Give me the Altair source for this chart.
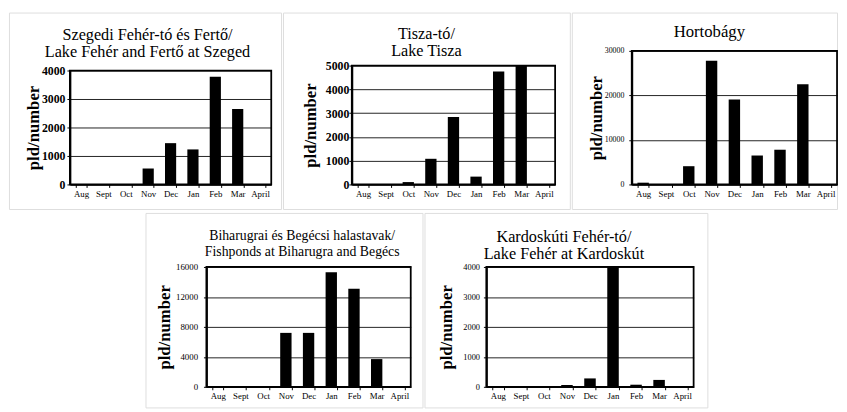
import altair as alt
import pandas as pd

months = ["Aug", "Sept", "Oct", "Nov", "Dec", "Jan", "Feb", "Mar", "April"]
szeged = [0, 0, 0, 560, 1450, 1230, 3780, 2650, 0]
tisza = [0, 0, 100, 1080, 2840, 330, 4750, 5000, 0]
hortobagy = [400, 0, 4100, 27800, 19100, 6500, 7800, 22500, 0]
biharugra = [0, 0, 0, 7200, 7200, 15300, 13100, 3700, 0]
kardoskut = [0, 0, 0, 60, 280, 4000, 70, 230, 0]

title_szeged = ["Szegedi Fehér-tó és Fertő/", "Lake Fehér and Fertő at Szeged"]
title_tisza = ["Tisza-tó/", "Lake Tisza"]
title_hortobagy = ["Hortobágy"]
title_biharugra = ["Biharugrai és Begécsi halastavak/", "Fishponds at Biharugra and Begécs"]
title_kardoskut = ["Kardoskúti Fehér-tó/", "Lake Fehér at Kardoskút"]

ticks_szeged = [0, 1000, 2000, 3000, 4000]
ticks_tisza = [0, 1000, 2000, 3000, 4000, 5000]
ticks_hortobagy = [0, 10000, 20000, 30000]
ticks_biharugra = [0, 4000, 8000, 12000, 16000]
ticks_kardoskut = [0, 1000, 2000, 3000, 4000]

y_title = "pld/number"
FONT = "Liberation Serif"


def panel(values, title, ticks, W, H, l, r, t, b, tfs, tx, ty, tlh,
          lfs, lbold, lpad, tpad):
    df = pd.DataFrame({"month": months, "count": values})
    x = alt.X(
        "month:N", sort=months,
        scale=alt.Scale(domain=months, range=[l, r], paddingInner=0.5, paddingOuter=0.25),
        axis=alt.Axis(orient="bottom", offset=b - H, title=None, labelAngle=0,
                      labelFont=FONT, labelFontSize=9, labelColor="black",
                      labelPadding=2, tickSize=3, tickBand="extent", tickColor="black",
                      domainColor="black", domainWidth=1.5, grid=False,
                      minExtent=0, maxExtent=400),
    )
    y = alt.Y(
        "count:Q",
        scale=alt.Scale(domain=[0, ticks[-1]], range=[b, t], nice=False, zero=True),
        axis=alt.Axis(orient="left", offset=-l, values=ticks, format="d",
                      labelFont=FONT, labelFontSize=lfs,
                      labelFontWeight="bold" if lbold else "normal",
                      labelColor="black", labelPadding=lpad, tickSize=3,
                      tickColor="black", domainColor="black", domainWidth=2,
                      grid=True, gridColor="#222", gridWidth=1,
                      title=y_title, titleFont=FONT, titleFontSize=17,
                      titleFontWeight="bold", titleColor="black", titlePadding=tpad,
                      minExtent=0, maxExtent=400),
    )
    one = pd.DataFrame({"f": [0]})
    bars = alt.Chart(df).mark_bar(color="black").encode(x=x, y=y)
    frame = alt.Chart(one).mark_rect(
        fill="transparent", stroke="black", strokeWidth=1.8
    ).encode(x=alt.value(l), x2=alt.value(r), y=alt.value(t), y2=alt.value(b))
    head = alt.Chart(one).mark_text(
        text=title, font=FONT, fontSize=tfs, color="black", align="center",
        baseline="top", lineHeight=tlh
    ).encode(x=alt.value(tx), y=alt.value(ty))
    return alt.layer(bars, frame, head).properties(width=W, height=H)


p1 = panel(szeged, title_szeged, ticks_szeged, 277, 200, 62, 267, 59, 175,
           16.5, 141, 15, 17, 12, True, 2, -1)
p2 = panel(tisza, title_tisza, ticks_tisza, 292, 200, 70, 277, 54, 175,
           16.5, 146, 14, 17, 12, True, 0, 6)
p3 = panel(hortobagy, title_hortobagy, ticks_hortobagy, 270, 200, 61, 270, 39, 175,
           17, 140, 12, 17, 8, False, 5, -1.5)
p4 = panel(biharugra, title_biharugra, ticks_biharugra, 282, 198, 62, 270, 55, 177,
           14, 159.5, 17, 15.5, 9, False, 6, 2)
p5 = panel(kardoskut, title_kardoskut, ticks_kardoskut, 288, 198, 63, 274, 55, 177,
           16.5, 142, 17, 16.5, 8.5, False, 4, 7)

spacer = alt.Chart(pd.DataFrame({"s": [0]})).mark_rect(opacity=0).encode(
    x=alt.value(0), x2=alt.value(137), y=alt.value(0), y2=alt.value(198)
).properties(width=137, height=198, view=alt.ViewBackground(stroke="transparent"))

top = alt.hconcat(p1, p2, p3, spacing=0)
bottom = alt.hconcat(spacer, p4, p5, spacing=0)

chart = alt.vconcat(top, bottom, spacing=2).properties(
    padding={"left": 0, "top": 0, "right": 0, "bottom": 0},
    autosize=alt.AutoSizeParams(type="pad"),
).configure_view(
    stroke="#666", strokeWidth=1
).configure(background="white", padding=0)

chart.save("out.html", embed_options={"renderer": "svg", "actions": False})
